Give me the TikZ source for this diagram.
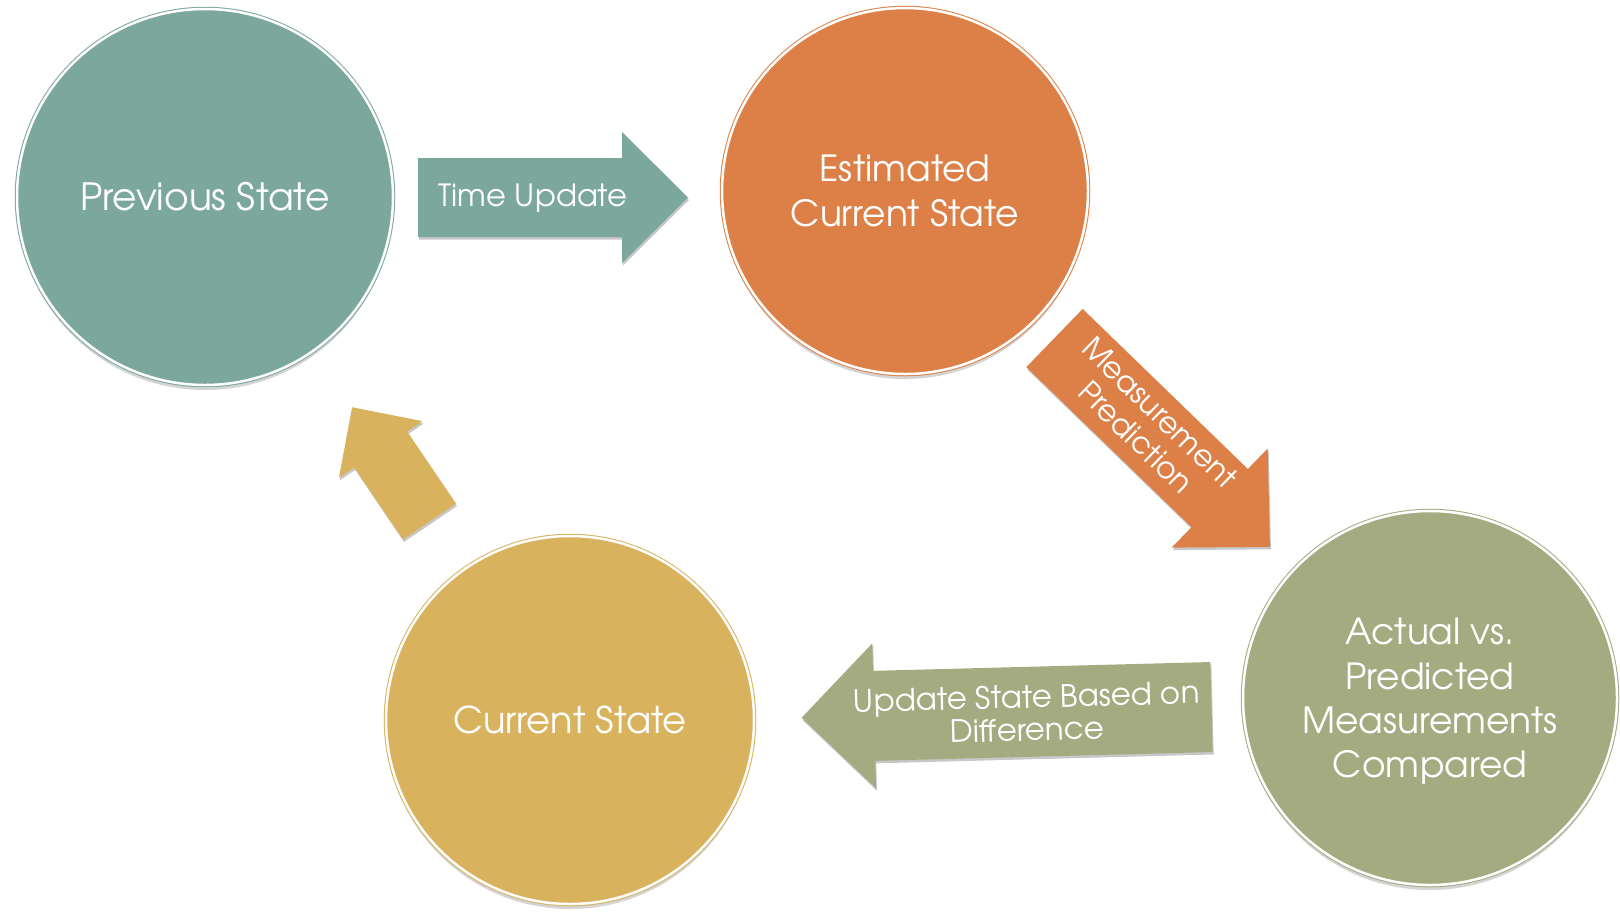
\documentclass[tikz,border=0pt]{standalone}
\usepackage{fontspec}
\setmainfont{TeX Gyre Adventor}
\usetikzlibrary{shadows}
\definecolor{kteal}{HTML}{7BA79D}
\definecolor{korange}{HTML}{DD8047}
\definecolor{kolive}{HTML}{A5AB81}
\definecolor{kgold}{HTML}{D8B25C}
\begin{document}
\begin{tikzpicture}[x=0.5pt,y=-0.5pt,
  statenode/.style={circle, inner sep=0pt, fill=#1, draw=#1,
    line width=0.5pt, double=white, double distance=1.25pt, text=white, align=center,
    font=\fontsize{18}{22.2}\selectfont,
    drop shadow={shadow xshift=0pt, shadow yshift=-2.5pt, opacity=0.3, fill=black!55}},
  arrowtext/.style={text=white, align=center, inner sep=0pt},
  pics/blockarrow/.style n args={5}{code={%
    \fill[#5] (0,-#2) -- ({#1-#3},-#2) -- ({#1-#3},-#4) -- (#1,0)
      -- ({#1-#3},#4) -- ({#1-#3},#2) -- (0,#2) -- cycle;
  }},
  arrowshadow/.style={black, opacity=0.22}]
\fill[white] (0,0) rectangle (1620,912);
\useasboundingbox (0,0) rectangle (1620,912);

% the four states
\node[statenode=kteal, minimum size=188pt, font=\fontsize{18.8}{22.2}\selectfont] (prev) at (205,197) {Previous State};
\node[statenode=korange, minimum size=183pt] (est) at (905,191) {Estimated\\Current State};
\node[statenode=kolive, minimum size=187pt, text depth=0pt] (act) at (1430,698) {Actual vs.\\Predicted\\Measurements\\Compared};
\node[statenode=kgold, minimum size=184pt, font=\fontsize{18.4}{22.2}\selectfont] (cur) at (570,720) {Current State};

% block arrows: shadow first, then the arrow
\pic[shift={(1,2.5)}] at (418,197.5) {blockarrow={270}{39.5}{66}{65.5}{arrowshadow}};
\pic at (418,197.5) {blockarrow={270}{39.5}{66}{65.5}{kteal}};

\pic[shift={(1,2.5)}, rotate=-44.1] at (1054.5,338) {blockarrow={300}{40.5}{70}{69}{arrowshadow}};
\pic[rotate=-44.1] at (1054.5,338) {blockarrow={300}{40.5}{70}{69}{korange}};

\pic[shift={(1,2.5)}, rotate=181.5] at (1211.5,707) {blockarrow={410}{45}{72.5}{72.5}{arrowshadow}};
\pic[rotate=181.5] at (1211.5,707) {blockarrow={410}{45}{72.5}{72.5}{kolive}};

\pic[shift={(1,2.5)}, rotate=124.1] at (429.5,521.5) {blockarrow={138}{32}{51}{50.5}{arrowshadow}};
\pic[rotate=124.1] at (429.5,521.5) {blockarrow={138}{32}{51}{50.5}{kgold}};

% arrow labels
\node[arrowtext, anchor=base, font=\fontsize{15.3}{18}\selectfont] (tu) at (533,206) {Time Update};
\node[arrowtext, rotate=-44.1, font=\fontsize{15}{17}\selectfont] (mp) at (1148,425) {Measurement\\Prediction};
\node[arrowtext, rotate=1.5, font=\fontsize{15.4}{16.5}\selectfont] (usd) at (1027,713) {Update State Based on\\Difference};
\end{tikzpicture}
\end{document}
